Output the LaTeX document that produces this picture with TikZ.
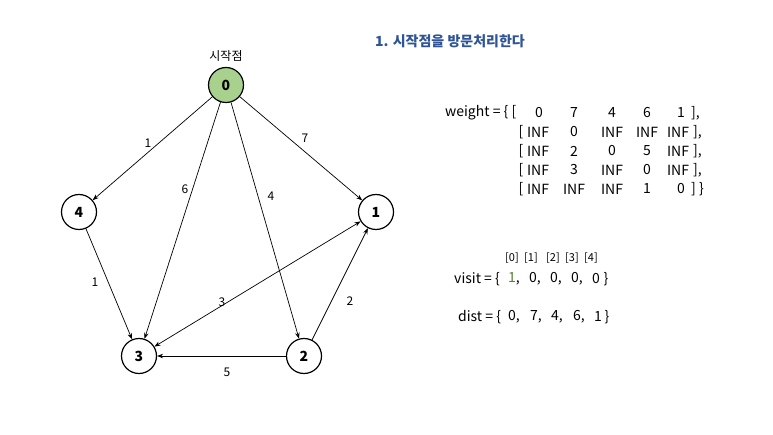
\documentclass[tikz,border=0pt]{standalone}
\usepackage{fontspec}
\setmainfont{Noto Sans CJK KR}
\usetikzlibrary{arrows.meta}
\definecolor{nodegreen}{HTML}{A9D18E}
\definecolor{titleblue}{HTML}{2F5597}
\definecolor{valgreen}{HTML}{548235}
\tikzset{
  vtx/.style={circle, draw, line width=1.2pt, minimum size=35pt, inner sep=0pt, font=\bfseries\fontsize{14}{16}\selectfont},
  startvtx/.style={vtx, fill=nodegreen},
  edg/.style={-{Stealth[length=6pt,width=4.5pt]}, line width=0.7pt},
  edgboth/.style={{Stealth[length=6pt,width=4.5pt]}-{Stealth[length=6pt,width=4.5pt]}, line width=0.7pt},
  elab/.style={font=\fontsize{12}{14}\selectfont, inner sep=0pt},
  txt/.style={font=\fontsize{14}{16}\selectfont, inner sep=0pt},
  smalltxt/.style={font=\fontsize{11}{13}\selectfont, inner sep=0pt},
  titletxt/.style={font=\bfseries\fontsize{14}{16}\selectfont, text=titleblue, inner sep=0pt}
}
\begin{document}
\begin{tikzpicture}[x=1pt,y=-1pt]
\useasboundingbox (0,0) rectangle (773,435);
% vertices
\node[startvtx] (n0) at (226,85) {0};
\node[vtx] (n1) at (376,212) {1};
\node[vtx] (n2) at (304,356) {2};
\node[vtx] (n3) at (139,356) {3};
\node[vtx] (n4) at (79,212) {4};
\node[elab] (startlab) at (226,56) {시작점};
% edges
\draw[edg] (n0) -- (n4);
\draw[edg] (n0) -- (n3);
\draw[edg] (n0) -- (n2);
\draw[edg] (n0) -- (n1);
\draw[edg] (n4) -- (n3);
\draw[edgboth] (n3) -- (n1);
\draw[edg] (n2) -- (n1);
\draw[edg] (n2) -- (n3);
% edge labels
\node[elab] (l04) at (148,143) {1};
\node[elab] (l03) at (185,189) {6};
\node[elab] (l02) at (271,196) {4};
\node[elab] (l01) at (305,138) {7};
\node[elab] (l43) at (95,282) {1};
\node[elab] (l31) at (222,302) {3};
\node[elab] (l21) at (350,301) {2};
\node[elab] (l23) at (227,372) {5};
% title
\node[titletxt] (title) at (450,41) {1. 시작점을 방문처리한다};
% weight matrix
\node[txt, anchor=west] (w1) at (445,113) {weight = \{ [};
\node[txt] (c11) at (539,113) {0};
\node[txt] (c12) at (574,113) {7};
\node[txt] (c13) at (612,113) {4};
\node[txt] (c14) at (647,113) {6};
\node[txt] (c15) at (681,113) {1};
\node[txt, anchor=west] (e1) at (691,113) {],};
\node[txt] (b2) at (521,132) {[};
\node[txt] (c21) at (538,132) {INF};
\node[txt] (c22) at (574,132) {0};
\node[txt] (c23) at (612,132) {INF};
\node[txt] (c24) at (647,132) {INF};
\node[txt] (c25) at (678,132) {INF};
\node[txt, anchor=west] (e2) at (693,132) {],};
\node[txt] (b3) at (521,151) {[};
\node[txt] (c31) at (538,151) {INF};
\node[txt] (c32) at (574,151) {2};
\node[txt] (c33) at (612,151) {0};
\node[txt] (c34) at (647,151) {5};
\node[txt] (c35) at (678,151) {INF};
\node[txt, anchor=west] (e3) at (693,151) {],};
\node[txt] (b4) at (521,170) {[};
\node[txt] (c41) at (538,170) {INF};
\node[txt] (c42) at (574,170) {3};
\node[txt] (c43) at (612,170) {INF};
\node[txt] (c44) at (647,170) {0};
\node[txt] (c45) at (678,170) {INF};
\node[txt, anchor=west] (e4) at (693,170) {],};
\node[txt] (b5) at (521,189) {[};
\node[txt] (c51) at (538,189) {INF};
\node[txt] (c52) at (574,189) {INF};
\node[txt] (c53) at (612,189) {INF};
\node[txt] (c54) at (647,189) {1};
\node[txt] (c55) at (681,189) {0};
\node[txt, anchor=west] (e5) at (691,189) {] \}};
% visit / dist
\node[smalltxt] (i0) at (512,258) {[0]};
\node[smalltxt] (i1) at (531,258) {[1]};
\node[smalltxt] (i2) at (553,258) {[2]};
\node[smalltxt] (i3) at (572,258) {[3]};
\node[smalltxt] (i4) at (591,258) {[4]};
\node[txt, anchor=west] (visit) at (454,279) {visit = \{};
\node[txt, text=valgreen] (v0) at (512,279) {1\rlap{\textcolor{black}{,}}};
\node[txt] (v1) at (533,279) {0\rlap{,}};
\node[txt] (v2) at (554,279) {0\rlap{,}};
\node[txt] (v3) at (575,279) {0\rlap{,}};
\node[txt] (v4) at (596,279) {0};
\node[txt] (vend) at (606,279) {\}};
\node[txt, anchor=west] (dist) at (458,317) {dist = \{};
\node[txt] (d0) at (512,317) {0\rlap{,}};
\node[txt] (d1) at (534,317) {7\rlap{,}};
\node[txt] (d2) at (555,317) {4\rlap{,}};
\node[txt] (d3) at (577,317) {6\rlap{,}};
\node[txt] (d4) at (598,317) {1};
\node[txt] (dend) at (607,317) {\}};
\end{tikzpicture}
\end{document}
